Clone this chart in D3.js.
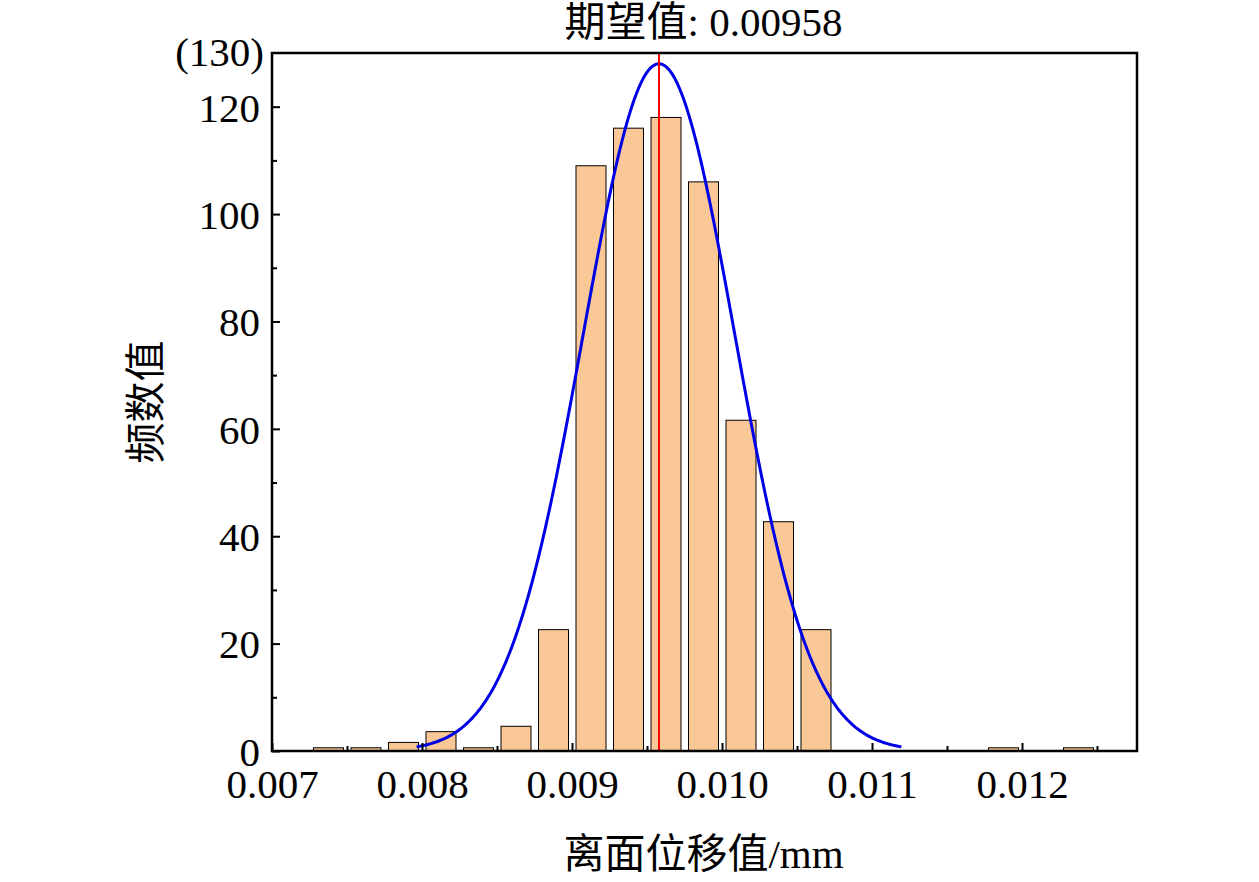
<!DOCTYPE html>
<html><head><meta charset="utf-8">
<script src="https://cdn.jsdelivr.net/npm/d3@7"></script>
<style>body{margin:0;background:#fff}text{font-family:"Liberation Serif","Noto Sans CJK SC",serif}</style>
</head><body><svg id="c" width="1259" height="882"></svg>
<script>
// bin centers and counts
const binCenters = [0.00737,0.00762,0.00787,0.00812,0.00837,0.00862,0.00887,0.00912,0.00937,0.00962,0.00987,0.01012,0.01037,0.01062,0.01187,0.01237]
const counts = [0.6,0.6,1.6,3.6,0.6,4.6,22.6,109,116,118,106,61.6,42.7,22.6,0.6,0.6]
const xTicks = [0.007,0.008,0.009,0.010,0.011,0.012]
const yTicks = [0,20,40,60,80,100,120]
const meanVal = 0.00958, sigma = 0.000505, peak = 128

const svg = d3.select("#c")
const L=272,R=1137,T=53,B=751
const x = d3.scaleLinear().domain([0.007,0.007+(R-L)/150000]).range([L,R])
const y = d3.scaleLinear().domain([0,130]).range([B,T])
const bw = 0.0002
const fs = 41

svg.selectAll("rect.bar").data(binCenters).join("rect")
  .attr("x",d=>x(d-bw/2)+1).attr("width",x(bw)-x(0))
  .attr("y",(d,i)=>y(counts[i])).attr("height",(d,i)=>B-y(counts[i]))
  .attr("fill","#fac896").attr("stroke","#000").attr("stroke-width",1)

// fitted normal curve
const xs = d3.range(meanVal-3.2*sigma, meanVal+3.2*sigma, sigma/40)
svg.append("path").datum(xs).attr("fill","none").attr("stroke","#0000e6").attr("stroke-width",3)
  .attr("d",d3.line().x(d=>x(d)).y(d=>y(peak*Math.exp(-((d-meanVal)**2)/(2*sigma*sigma)))))

svg.append("line").attr("x1",x(meanVal)).attr("x2",x(meanVal)).attr("y1",T).attr("y2",B)
  .attr("stroke","#f00").attr("stroke-width",2)

// axes, ticks inward
const gx = svg.append("g").attr("transform",`translate(0,${B})`)
  .call(d3.axisBottom(x).tickValues(xTicks).tickFormat(d3.format(".3f")).tickSizeInner(-8).tickSizeOuter(0).tickPadding(18))
const gxm = svg.append("g").attr("transform",`translate(0,${B})`)
  .call(d3.axisBottom(x).tickValues(d3.range(0.0075,0.0126,0.001)).tickFormat("").tickSizeInner(-5).tickSizeOuter(0))
const gy = svg.append("g").attr("transform",`translate(${L},0)`)
  .call(d3.axisLeft(y).tickValues(yTicks).tickSizeInner(-8).tickSizeOuter(0).tickPadding(12))
const gym = svg.append("g").attr("transform",`translate(${L},0)`)
  .call(d3.axisLeft(y).tickValues(d3.range(10,130,20)).tickFormat("").tickSizeInner(-5).tickSizeOuter(0))
for (const g of [gx,gxm,gy,gym]) {
  g.select(".domain").remove()
  g.selectAll("line").attr("stroke","#000").attr("stroke-width",2)
  g.selectAll("text").attr("font-size",fs).attr("fill","#000").style("font-family","Liberation Serif")
}
gy.selectAll("text").attr("dy","0.35em")
gx.selectAll("text").attr("dy","0.71em")

svg.append("rect").attr("x",L).attr("y",T).attr("width",R-L).attr("height",B-T)
  .attr("fill","none").attr("stroke","#000").attr("stroke-width",2.5)

svg.append("text").attr("x",L-8).attr("y",T+13).attr("text-anchor","end").attr("font-size",fs).text("(130)")
svg.append("text").attr("x",(L+R)/2 - 1).attr("y",36).attr("text-anchor","middle").attr("font-size",fs).text("期望值: 0.00958")
svg.append("text").attr("x",(L+R)/2 - 1).attr("y",868).attr("text-anchor","middle").attr("font-size",fs).text("离面位移值/mm")
svg.append("text").attr("transform","translate(160,402) rotate(-90)").attr("text-anchor","middle").attr("font-size",fs).text("频数值")
</script></body></html>
